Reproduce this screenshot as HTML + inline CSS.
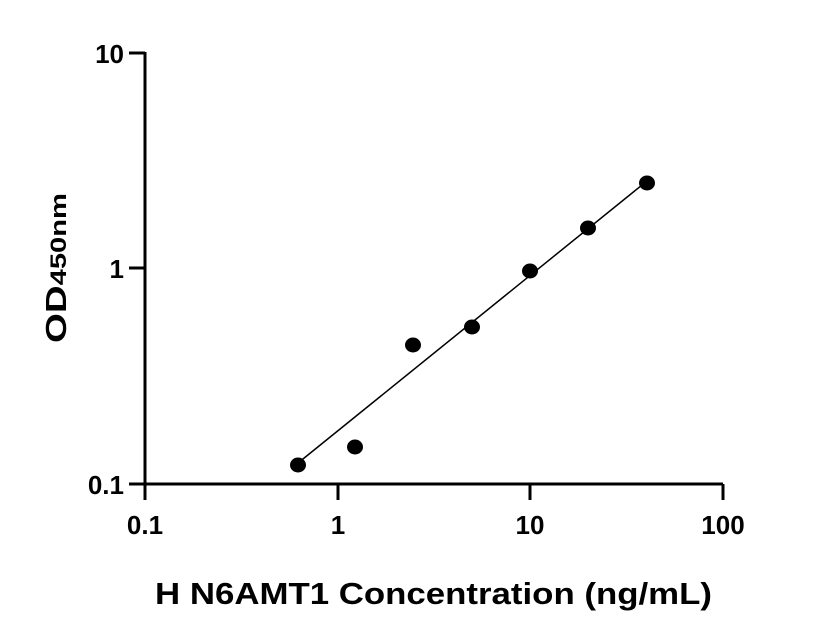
<!DOCTYPE html>
<html><head><meta charset="utf-8"><style>body{margin:0;background:#fff}svg{display:block}</style></head>
<body>
<svg width="816" height="640" xmlns="http://www.w3.org/2000/svg" font-family="Liberation Sans, sans-serif" font-weight="bold">
<g stroke="#000" stroke-width="3" fill="none">
<path d="M145,52 V484 H723"/>
<path d="M129,53 H145 M129,268 H145 M129,484 H145"/>
<path d="M145,484 V500 M338,484 V500 M530,484 V500 M723,484 V500"/>
</g>
<line x1="298" y1="463" x2="647" y2="181" stroke="#000" stroke-width="1.5"/>
<g fill="#000">
<ellipse cx="298" cy="465" rx="8" ry="7.5"/>
<ellipse cx="355" cy="447" rx="8" ry="7.5"/>
<ellipse cx="413" cy="345" rx="8" ry="7.5"/>
<ellipse cx="472" cy="327" rx="8" ry="7.5"/>
<ellipse cx="530" cy="271" rx="8" ry="7.5"/>
<ellipse cx="588" cy="228" rx="8" ry="7.5"/>
<ellipse cx="647" cy="183" rx="8" ry="7.5"/>
</g>
<g font-size="26" text-anchor="end">
<text x="124" y="63">10</text>
<text x="124" y="278">1</text>
<text x="124" y="494">0.1</text>
</g>
<g font-size="26" text-anchor="middle">
<text x="145" y="534">0.1</text>
<text x="338" y="534">1</text>
<text x="530" y="534">10</text>
<text x="723" y="534">100</text>
</g>
<text x="155" y="604" font-size="31" textLength="557" lengthAdjust="spacingAndGlyphs">H N6AMT1 Concentration (ng/mL)</text>
<text transform="translate(66,343) rotate(-90)" font-size="29" textLength="150" lengthAdjust="spacingAndGlyphs">OD<tspan font-size="22">450nm</tspan></text>
</svg>
</body></html>
